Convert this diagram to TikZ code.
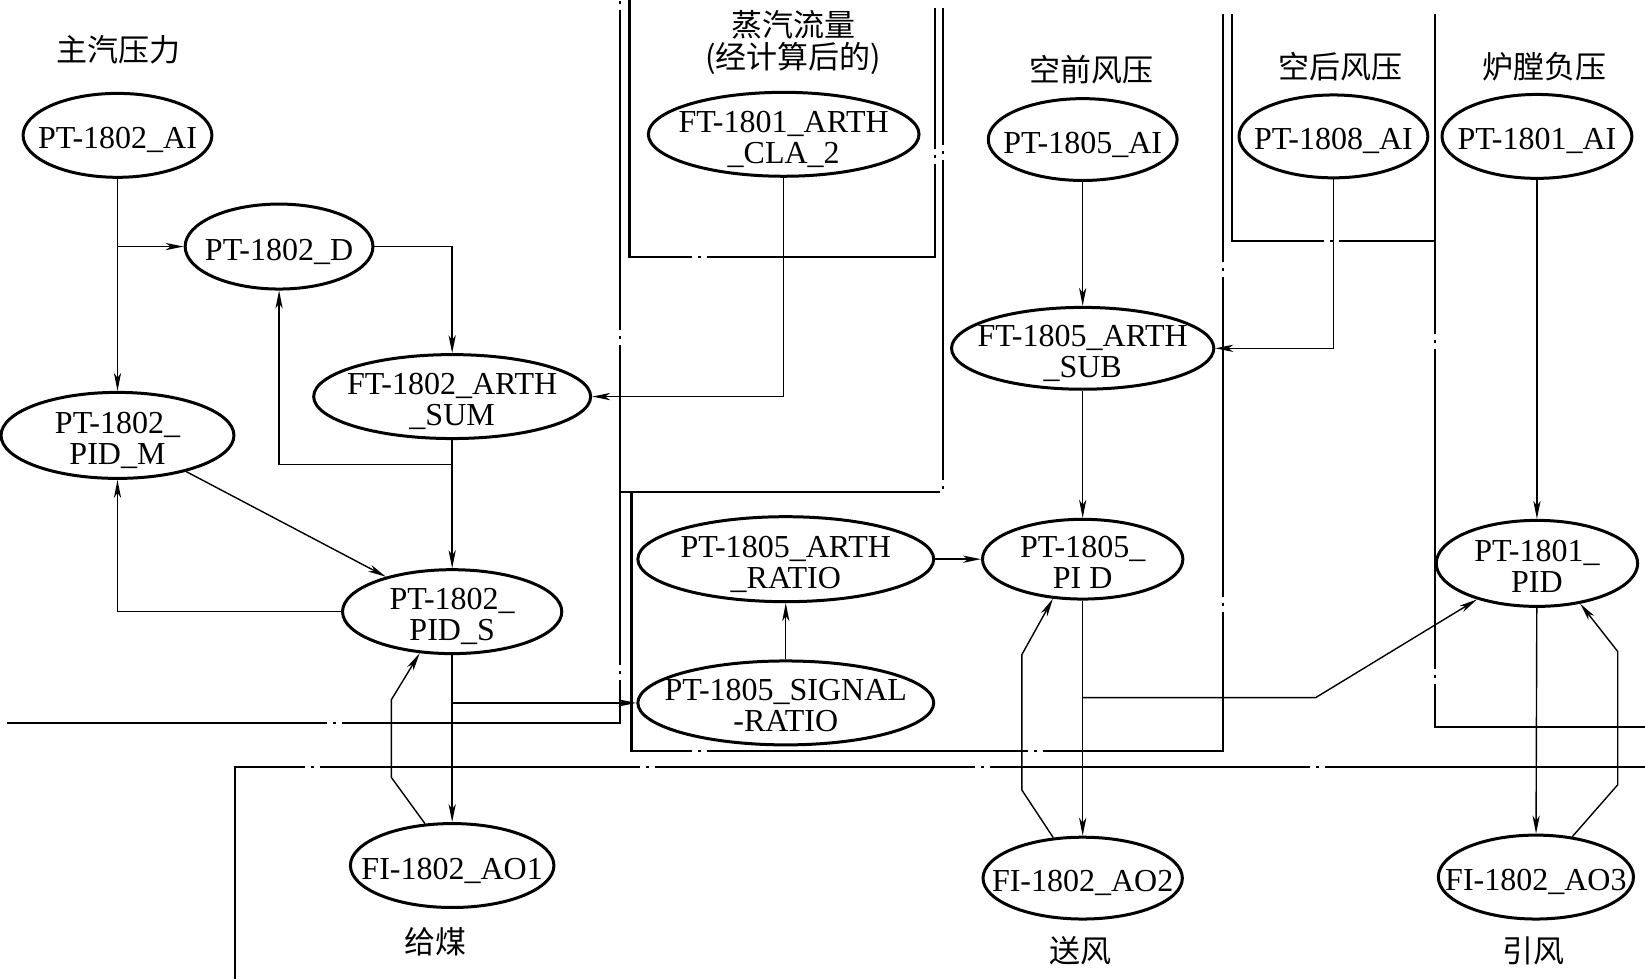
\documentclass[tikz,border=0pt]{standalone}
\usepackage{fontspec}
\setmainfont{Liberation Serif}
\newfontfamily\cjk{Noto Sans CJK SC}
\usetikzlibrary{shapes.geometric,arrows.meta}
\newcommand\us{\smash{\_}}
\begin{document}
\begin{tikzpicture}[x=0.5245pt,y=-0.5245pt,
  el/.style 2 args={ellipse,draw,fill=white,line width=1.5pt,inner sep=0pt,minimum width=#1*0.5245pt,minimum height=#2*0.5245pt},
  txt/.style={inner sep=0pt,align=center,yshift=-1.5pt,font=\fontsize{16}{15.5}\selectfont},
  cn/.style={inner sep=0pt,font=\cjk\fontsize{15.5}{17}\selectfont},
  arr/.style={line width=0.7pt,-{Stealth[length=9pt,width=3.6pt,inset=2.5pt]}},
  bnd/.style={line width=1.1pt,dash pattern=on 160pt off 3pt on 1.5pt off 3pt}]
\useasboundingbox (0,0) rectangle (1568,933);
% boundaries
\draw[bnd] (7,689) -- (591,689) -- (591,0);
\draw[bnd] (591,469) -- (899,469) -- (899,8);
\draw[bnd] (600,0) -- (600,245) -- (891,245) -- (891,8);
\draw[bnd] (602,469) -- (602,716) -- (1166,716) -- (1166,13);
\draw[bnd] (1174,13) -- (1174,230) -- (1368,230);
\draw[bnd] (1368,13) -- (1368,693) -- (1568,693);
\draw[bnd] (1568,731) -- (224,731) -- (224,933);
% nodes
\node[el={180}{80}] (ai1) at (112,129) {};
\node[txt] (ai1t) at (ai1) {PT-1802\us AI};
\node[el={179}{81}] (d) at (266,235) {};
\node[txt] (dt) at (d) {PT-1802\us D};
\node[el={264}{80}] (sum) at (431,378) {};
\node[txt] (sumt) at (sum) {FT-1802\us ARTH\\\us SUM};
\node[el={222}{82}] (pidm) at (112,415) {};
\node[txt] (pidmt) at (pidm) {PT-1802\us\\PID\us M};
\node[el={209}{80}] (pids) at (431,583) {};
\node[txt] (pidst) at (pids) {PT-1802\us\\PID\us S};
\node[el={194}{80}] (ao1) at (431,825) {};
\node[txt] (ao1t) at (ao1) {FI-1802\us AO1};
\node[el={258}{80}] (cla) at (747,128) {};
\node[txt] (clat) at (cla) {FT-1801\us ARTH\\\us CLA\us 2};
\node[el={282}{81}] (ratio) at (749,533) {};
\node[txt] (ratiot) at (ratio) {PT-1805\us ARTH\\\us RATIO};
\node[el={282}{80}] (sig) at (749,670) {};
\node[txt] (sigt) at (sig) {PT-1805\us SIGNAL\\-RATIO};
\node[el={180}{78}] (ai5) at (1032,133) {};
\node[txt] (ai5t) at (ai5) {PT-1805\us AI};
\node[el={250}{78}] (sub) at (1032,332) {};
\node[txt] (subt) at (sub) {FT-1805\us ARTH\\\us SUB};
\node[el={191}{76}] (pid5) at (1032,533) {};
\node[txt] (pid5t) at (pid5) {PT-1805\us\\PI D};
\node[el={190}{78}] (ao2) at (1032,837) {};
\node[txt] (ao2t) at (ao2) {FI-1802\us AO2};
\node[el={180}{79}] (ai8) at (1271,130) {};
\node[txt] (ai8t) at (ai8) {PT-1808\us AI};
\node[el={181}{80}] (ai1801) at (1465,130) {};
\node[txt] (ai1801t) at (ai1801) {PT-1801\us AI};
\node[el={192}{82}] (p1pid) at (1465,537) {};
\node[txt] (p1pidt) at (p1pid) {PT-1801\us\\PID};
\node[el={186}{80}] (ao3) at (1464,836) {};
\node[txt] (ao3t) at (ao3) {FI-1802\us AO3};
% labels
\node[cn] (l1) at (113,47) {主汽压力};
\node[cn] (l2) at (756,24) {蒸汽流量};
\node[cn] (l3) at (756,56) {(经计算后的)};
\node[cn] (l4) at (1040,66) {空前风压};
\node[cn] (l5) at (1278,64) {空后风压};
\node[cn] (l6) at (1472,64) {炉膛负压};
\node[cn] (l7) at (415,898) {给煤};
\node[cn] (l8) at (1030,906) {送风};
\node[cn] (l9) at (1462,906) {引风};
% junctions and bends
\coordinate (j0) at (112,235);
\coordinate (j1) at (431,443);
\coordinate (j2) at (431,670);
\coordinate (j3) at (1032,665);
\coordinate (b1) at (373,741);
\coordinate (b2) at (373,667);
\coordinate (b3) at (1254,665);
\coordinate (b4) at (974,753);
\coordinate (b5) at (974,624);
\coordinate (b6) at (1542,748);
\coordinate (b7) at (1542,621);
% connectors
\draw[arr] (ai1) -- (pidm);
\draw[arr] (j0) -- (d);
\draw[arr] (d.east) -| (sum.north);
\draw[arr] (sum) -- (pids);
\draw[arr] (j1) -| (d.south);
\draw[arr] (cla.south) |- (sum.east);
\draw[arr] (pidm) -- (pids);
\draw[arr] (pids.west) -| (pidm.south);
\draw[arr] (pids) -- (ao1);
\draw[arr] (j2) -- (sig.west);
\draw[arr] (ao1.123) -- (b1) -- (b2) -- (pids.-128);
\draw[arr] (sig) -- (ratio);
\draw[arr] (ratio) -- (pid5);
\draw[arr] (ai5) -- (sub);
\draw[arr] (ai8.south) |- (sub.east);
\draw[arr] (sub) -- (pid5);
\draw[arr] (pid5) -- (ao2);
\draw[arr] (j3) -- (b3) -- (p1pid.-149);
\draw[arr] (ao2.126) -- (b4) -- (b5) -- (pid5.-127);
\draw[arr] (ai1801) -- (p1pid);
\draw[arr] (p1pid) -- (ao3);
\draw[arr] (ao3.48) -- (b6) -- (b7) -- (p1pid.-43);
\end{tikzpicture}
\end{document}
